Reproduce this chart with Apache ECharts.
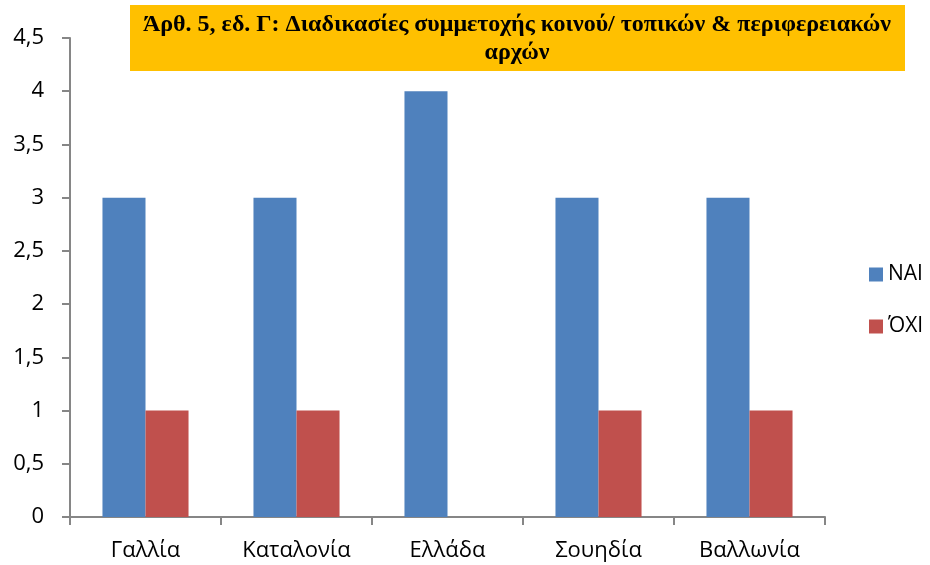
<!DOCTYPE html>
<html>
<head>
<meta charset="utf-8">
<script src="https://cdn.jsdelivr.net/npm/echarts@6/dist/echarts.min.js"></script>
<style>
  html, body { margin: 0; padding: 0; background: #fff; }
  #main { width: 930px; height: 565px; }
</style>
</head>
<body>
<div id="main"></div>
<script>
var categories = ['Γαλλία', 'Καταλονία', 'Ελλάδα', 'Σουηδία', 'Βαλλωνία'];
var naiValues = [3, 3, 4, 3, 3];
var oxiValues = [1, 1, 0, 1, 1];
var titleText = 'Άρθ. 5, εδ. Γ: Διαδικασίες συμμετοχής κοινού/ τοπικών & περιφερειακών\nαρχών';

var chart = echarts.init(document.getElementById('main'));
var labelFont = '"Open Sans", "Liberation Sans", sans-serif';
var option = {
    animation: false,
    grid: { left: 70, right: 105, top: 38, bottom: 48 },
    graphic: [
        {
            type: 'rect',
            shape: { x: 130, y: 5, width: 775, height: 66 },
            style: { fill: '#FFC000' },
            z: 10
        },
        {
            type: 'text',
            z: 11,
            style: {
                x: 517,
                y: 39,
                text: titleText,
                align: 'center',
                verticalAlign: 'middle',
                font: 'bold 24px "Liberation Serif", "DejaVu Serif", serif',
                lineHeight: 28,
                fill: '#000'
            }
        }
    ],
    legend: {
        orient: 'vertical',
        left: 864,
        top: 259,
        icon: 'rect',
        itemWidth: 14,
        itemHeight: 14,
        itemGap: 31,
        textStyle: { fontSize: 21, color: '#000', fontFamily: labelFont },
        data: ['ΝΑΙ', 'ΌΧΙ']
    },
    xAxis: {
        type: 'category',
        data: categories,
        axisLine: { lineStyle: { color: '#868686', width: 2 } },
        axisTick: { show: true, length: 8, lineStyle: { color: '#868686', width: 2 } },
        axisLabel: { fontSize: 22, color: '#000', fontFamily: labelFont, margin: 23 }
    },
    yAxis: {
        type: 'value',
        min: 0,
        max: 4.5,
        interval: 0.5,
        axisLine: { show: true, lineStyle: { color: '#868686', width: 2 } },
        axisTick: { show: true, length: 8, lineStyle: { color: '#868686', width: 2 } },
        splitLine: { show: false },
        axisLabel: {
            fontSize: 22,
            color: '#000',
            fontFamily: labelFont,
            margin: 26,
            formatter: function (v) { return String(v).replace('.', ','); }
        }
    },
    series: [
        {
            name: 'ΝΑΙ',
            type: 'bar',
            data: naiValues,
            barGap: '0%',
            barCategoryGap: '43%',
            itemStyle: { color: '#4F81BD' }
        },
        {
            name: 'ΌΧΙ',
            type: 'bar',
            data: oxiValues,
            itemStyle: { color: '#C0504D' }
        }
    ]
};
chart.setOption(option);
</script>
</body>
</html>
